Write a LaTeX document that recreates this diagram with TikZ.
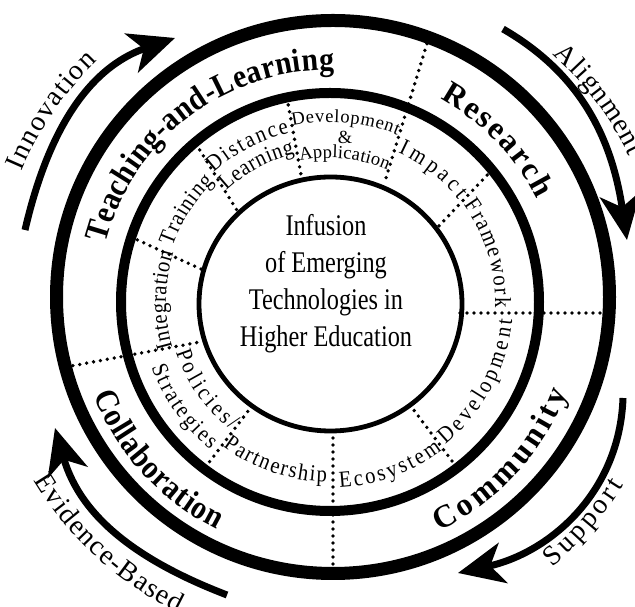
\documentclass[tikz,border=0pt]{standalone}
\usepackage{fontspec}
\setmainfont{Liberation Serif}
\newfontfamily\condserif[FakeStretch=0.81]{Liberation Serif}
\newfontfamily\narrowserif[FakeStretch=0.9]{Liberation Serif}
\usetikzlibrary{decorations.text,arrows.meta}
\newcommand\boldlab{\narrowserif\bfseries\fontsize{33}{38}\selectfont}
\newcommand\bigboldlab{\bfseries\fontsize{32}{38}\selectfont}
\newcommand\arrowlab{\fontsize{28}{32}\selectfont}
\newcommand\ringlab{\narrowserif\fontsize{23}{27}\selectfont}
\newcommand\smalllab{\fontsize{18.5}{22}\selectfont}
\newcommand\arclabel[5]{%
  \path[decorate,decoration={text along path,text align={fit to path},text={|#4|#5}}]
    (#2:#1pt) arc[start angle=#2,end angle=#3,radius=#1pt];}
\tikzset{
  divider/.style={line width=3.8pt,dash pattern=on 0pt off 7pt,line cap=round},
  outerring/.style={line width=13pt},
  midring/.style={line width=10pt},
  innerring/.style={line width=4.8pt},
  flowarrow/.style={line width=7pt,-{Stealth[length=46pt,width=41pt,inset=13pt]}},
  centertext/.style={font=\condserif\fontsize{30}{37}\selectfont,anchor=base,inner sep=0pt}
}
\begin{document}
\begin{tikzpicture}[x=1pt,y=1pt]
\useasboundingbox (0,0) rectangle (635,607);
\clip (0,0) rectangle (635,607);
% dividers
\draw[divider] (429,570) -- (386,429);
\draw[divider] (460,294) -- (612,294);
\draw[divider] (333,176) -- (333,32);
\draw[divider] (66,240) -- (200,265);
\draw[divider] (131,370) -- (203,337);
\draw[divider] (196,463) -- (238,395);
\draw[divider] (287,509) -- (302,427);
\draw[divider] (492,437) -- (437,379);
\draw[divider] (410,202) -- (458,138);
\draw[divider] (252,201) -- (204,138);
% rings
\draw[outerring] (333,310) circle[radius=276.5pt];
\draw[midring] (330,305) circle[radius=209pt];
\draw[innerring] (330.5,303) circle[x radius=131.5pt,y radius=127pt];
% centre text
\node[centertext] (c1) at (326,371) {Infusion};
\node[centertext] (c2) at (326,334) {of Emerging};
\node[centertext] (c3) at (326,297) {Technologies in};
\node[centertext] (c4) at (326,260) {Higher Education};
\node[font=\smalllab,inner sep=0pt] (amp) at (345,470) {\&};
% arrows
\coordinate (inT) at (25,377);   \coordinate (inH) at (175,569);
\coordinate (alT) at (503,578);  \coordinate (alH) at (627,367);
\coordinate (suT) at (623,209);  \coordinate (suH) at (458,34);
\coordinate (evT) at (227,12);   \coordinate (evH) at (55,179);
\draw[flowarrow] (inT) to[out=77,in=199] (inH);
\draw[flowarrow] (alT) to[out=-30,in=98.5] (alH);
\draw[flowarrow] (suT) to[out=-92,in=12.5] (suH);
\draw[flowarrow] (evT) to[out=159,in=286] (evH);
% curved labels
\begin{scope}[shift={(330,305)}]
\arclabel{232}{165.5}{89}{\boldlab}{Teaching-and-Learning}
\arclabel{231}{61.5}{26.5}{\bigboldlab}{Research}
\arclabel{254}{-64.5}{-21}{\bigboldlab}{Community}
\arclabel{254}{201.5}{243.5}{\boldlab}{Collaboration}
\arclabel{335}{157}{134}{\arrowlab}{Innovation}
\arclabel{333}{48}{26}{\arrowlab}{Alignment}
\arclabel{346}{-50}{-32}{\arrowlab}{Support}
\arclabel{346}{211}{244}{\arrowlab}{Evidence-Based}
\arclabel{164}{196}{162.5}{\ringlab}{Integration}
\arclabel{167}{160.5}{134}{\ringlab}{Training}
\arclabel{174}{132}{103.5}{\ringlab}{Distance}
\arclabel{152}{133}{103.5}{\ringlab}{Learning}
\arclabel{180}{102}{68}{\smalllab}{Development}
\arclabel{144}{102}{66.5}{\smalllab}{Application}
\arclabel{164}{65.5}{38.5}{\ringlab}{Impact}
\arclabel{165}{36}{-2}{\ringlab}{Framework}
\arclabel{183}{-51}{-5.5}{\ringlab}{Development}
\arclabel{186}{-87}{-53}{\ringlab}{Ecosystem}
\arclabel{180}{233.5}{269}{\ringlab}{Partnership}
\arclabel{162}{198}{232.5}{\ringlab}{Policies/}
\arclabel{190}{200}{231}{\ringlab}{Strategies}
\end{scope}
\end{tikzpicture}
\end{document}
